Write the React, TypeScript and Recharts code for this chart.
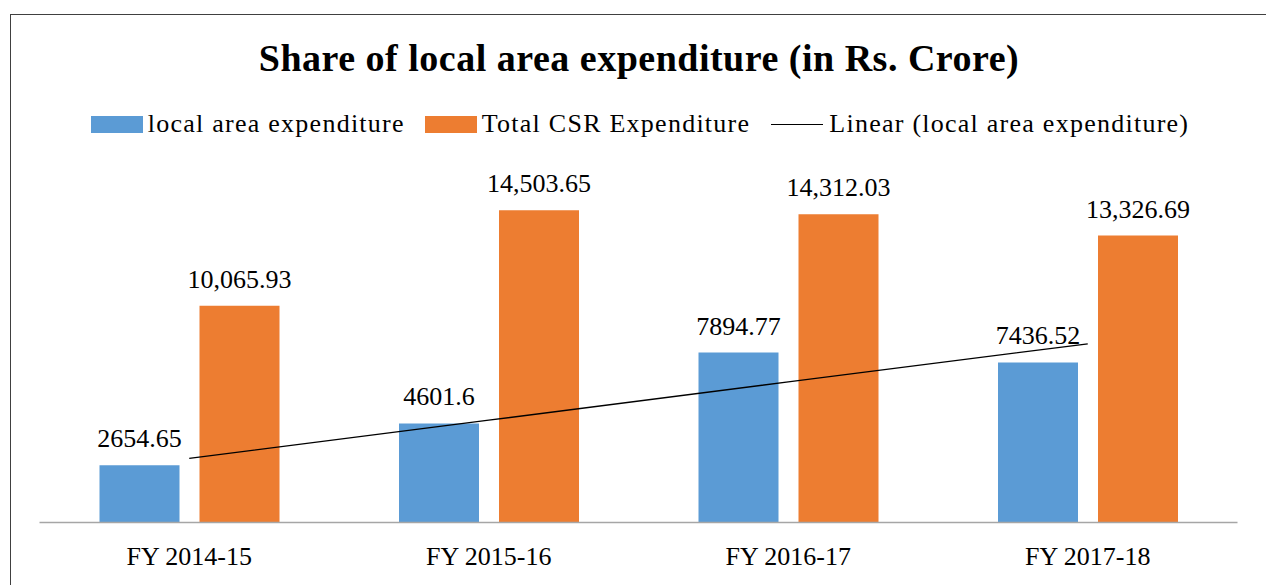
import { ComposedChart, Bar, Line, XAxis, YAxis, LabelList } from 'recharts';

/* Share of local area expenditure - grouped bars + linear trend */

const categories = ['FY 2014-15', 'FY 2015-16', 'FY 2016-17', 'FY 2017-18'];
const localArea = [2654.65, 4601.6, 7894.77, 7436.52];
const totalCsr = [10065.93, 14503.65, 14312.03, 13326.69];
// trend line values
const localTrend = [2980, 4750, 6530, 8300];

const BLUE = '#5B9BD5';
const ORANGE = '#ED7D31';
const FONT = '"Liberation Serif", "Times New Roman", serif';

const data = categories.map((name, i) => ({
  name,
  local: localArea[i],
  total: totalCsr[i],
  trend: localTrend[i],
}));

const fmtTotal = (v: number) =>
  v.toLocaleString('en-US', { minimumFractionDigits: 2, maximumFractionDigits: 2 });

const LegendRow = () => (
  <div
    style={{
      position: 'absolute',
      top: 94,
      left: 0,
      width: 1256,
      display: 'flex',
      justifyContent: 'center',
      alignItems: 'center',
      fontFamily: FONT,
      fontSize: 26,
      letterSpacing: 1.25,
      color: '#000',
      paddingLeft: 2,
      boxSizing: 'border-box',
    }}
  >
    <span style={{ width: 52, height: 17, background: BLUE, marginRight: 5 }} />
    <span style={{ marginRight: 20 }}>local area expenditure</span>
    <span style={{ width: 52, height: 17, background: ORANGE, marginRight: 5 }} />
    <span style={{ marginRight: 21 }}>Total CSR Expenditure</span>
    <span style={{ width: 52, height: 0, borderTop: '1.3px solid #000', marginRight: 6 }} />
    <span>Linear (local area expenditure)</span>
  </div>
);

export default function App() {
  return (
    <div
      style={{
        position: 'absolute',
        left: 10,
        top: 14,
        width: 1256,
        height: 571,
        borderLeft: '1.5px solid #404040',
        borderTop: '1.5px solid #404040',
        boxSizing: 'border-box',
        background: '#fff',
        overflow: 'hidden',
      }}
    >
      <div
        style={{
          position: 'absolute',
          top: 21,
          left: 0,
          width: 1256,
          textAlign: 'center',
          fontFamily: FONT,
          fontWeight: 'bold',
          fontSize: 38,
          letterSpacing: 0.5,
          color: '#000',
        }}
      >
        Share of local area expenditure (in Rs. Crore)
      </div>
      <LegendRow />
      <div style={{ position: 'absolute', left: 0, top: 0 }}>
        <ComposedChart
          width={1256}
          height={569.5}
          data={data}
          margin={{ top: 163, right: 29.5, left: 28.5, bottom: 0 }}
          barSize={80}
          barGap={20}
        >
          <XAxis
            dataKey="name"
            height={62}
            tickLine={false}
            axisLine={{ stroke: '#A6A6A6', strokeWidth: 1.5 }}
            tickMargin={18}
            tick={{ fill: '#000', fontSize: 26, fontFamily: FONT }}
          />
          <YAxis hide domain={[0, 16000]} />
          <Bar dataKey="local" fill={BLUE} isAnimationActive={false}>
            <LabelList
              dataKey="local"
              position="top"
              offset={18}
              fill="#000"
              fontSize={26}
              fontFamily={FONT}
              formatter={(v: number) => String(v)}
            />
          </Bar>
          <Bar dataKey="total" fill={ORANGE} isAnimationActive={false}>
            <LabelList
              dataKey="total"
              position="top"
              offset={18}
              fill="#000"
              fontSize={26}
              fontFamily={FONT}
              formatter={(v: number) => fmtTotal(v)}
            />
          </Bar>
          <Line
            dataKey="trend"
            stroke="#000"
            strokeWidth={1.3}
            dot={false}
            activeDot={false}
            isAnimationActive={false}
          />
        </ComposedChart>
      </div>
    </div>
  );
}
